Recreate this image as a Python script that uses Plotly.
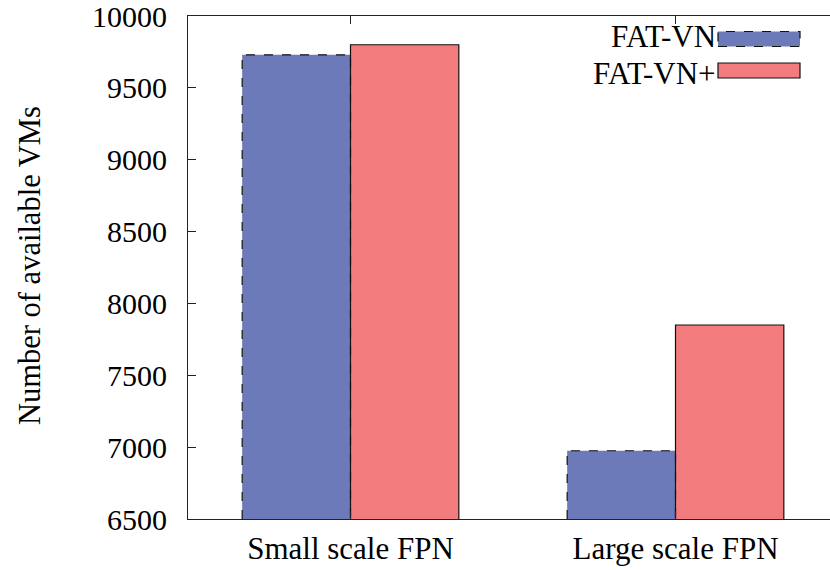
import plotly.graph_objects as go

# Data
categories = ["Small scale FPN", "Large scale FPN"]
fat_vn = [9730, 6975]
fat_vn_plus = [9800, 7850]
y_ticks = [6500, 7000, 7500, 8000, 8500, 9000, 9500, 10000]

BLUE = "#6C7ABA"
RED = "#F27B7E"
FONT = "Liberation Serif, Times New Roman, Times, serif"

W, H = 830, 570
ML, MR, MT, MB = 188, 0, 16, 51
plot_w = W - ML - MR
plot_h = H - MT - MB
cat_px = 325.0  # pixel spacing between category centres
x_min = -0.5
x_max = x_min + plot_w / cat_px
y_min, y_max = 6500, 10000

xs = list(range(len(categories)))
half = 1.0 / 3.0

fig = go.Figure()
fig.add_trace(go.Bar(
    x=xs, y=fat_vn, name="FAT-VN",
    marker=dict(color=BLUE, line=dict(width=0)),
    showlegend=False,
))
fig.add_trace(go.Bar(
    x=xs, y=fat_vn_plus, name="FAT-VN+",
    marker=dict(color=RED, line=dict(color="#111111", width=1.2)),
    showlegend=False,
))

# dashed outline for the FAT-VN bars
ox, oy = [], []
for i, v in zip(xs, fat_vn):
    ox += [i - half, i - half, i, i, None]
    oy += [y_min, v, v, y_min, None]
fig.add_trace(go.Scatter(
    x=ox, y=oy, mode="lines",
    line=dict(color="#111111", width=1.2, dash="dash"),
    hoverinfo="skip", showlegend=False,
))


def px_x(p):
    return (p - ML) / plot_w


def px_y(p):
    return (H - MB - p) / plot_h


# key: label to the left of a sample box; the two labels meet at y=55 px
KEY_SPLIT = 55
legend_rows = [
    ("FAT-VN", BLUE, "dash", 31.5, 46.5, "bottom"),
    ("FAT-VN+", RED, "solid", 63, 78, "top"),
]
shapes = []
annotations = []
for label, col, dash, top, bot, anchor in legend_rows:
    shapes.append(dict(
        type="rect", xref="paper", yref="paper",
        x0=px_x(718), x1=px_x(800), y0=px_y(bot), y1=px_y(top),
        fillcolor=col, line=dict(color="#111111", width=1.2, dash=dash),
    ))
    annotations.append(dict(
        text=label, xref="paper", yref="paper",
        x=px_x(717), y=px_y(KEY_SPLIT),
        xanchor="right", yanchor=anchor, showarrow=False,
        borderpad=0,
        font=dict(family=FONT, size=31, color="black"),
    ))

annotations.append(dict(
    text="Number of available VMs", xref="paper", yref="paper",
    x=px_x(30), y=px_y(266), textangle=-90,
    xanchor="center", yanchor="middle", showarrow=False,
    font=dict(family=FONT, size=30.5, color="black"),
))

fig.update_layout(
    width=W, height=H,
    margin=dict(l=ML, r=MR, t=MT, b=MB, pad=0),
    paper_bgcolor="white", plot_bgcolor="white",
    barmode="group", bargap=1.0 / 3.0, bargroupgap=0,
    shapes=shapes, annotations=annotations,
    font=dict(family=FONT, size=30, color="black"),
)
fig.update_xaxes(
    range=[x_min, x_max], tickvals=xs, ticktext=categories,
    showgrid=False, zeroline=False,
    showline=True, linecolor="#222222", linewidth=1.2, mirror="ticks",
    ticks="inside", ticklen=8, tickcolor="#222222",
    ticklabelstandoff=2,
    tickfont=dict(family=FONT, size=31, color="black"),
)
fig.update_yaxes(
    range=[y_min, y_max], tickvals=y_ticks,
    ticktext=[str(t) for t in y_ticks],
    showgrid=False, zeroline=False,
    showline=True, linecolor="#222222", linewidth=1.2, mirror=False,
    ticks="inside", ticklen=8, tickcolor="#222222",
    ticklabelstandoff=14, ticklabeloverflow="allow",
    tickfont=dict(family=FONT, size=30, color="black"),
)

fig.write_html("out.html")
